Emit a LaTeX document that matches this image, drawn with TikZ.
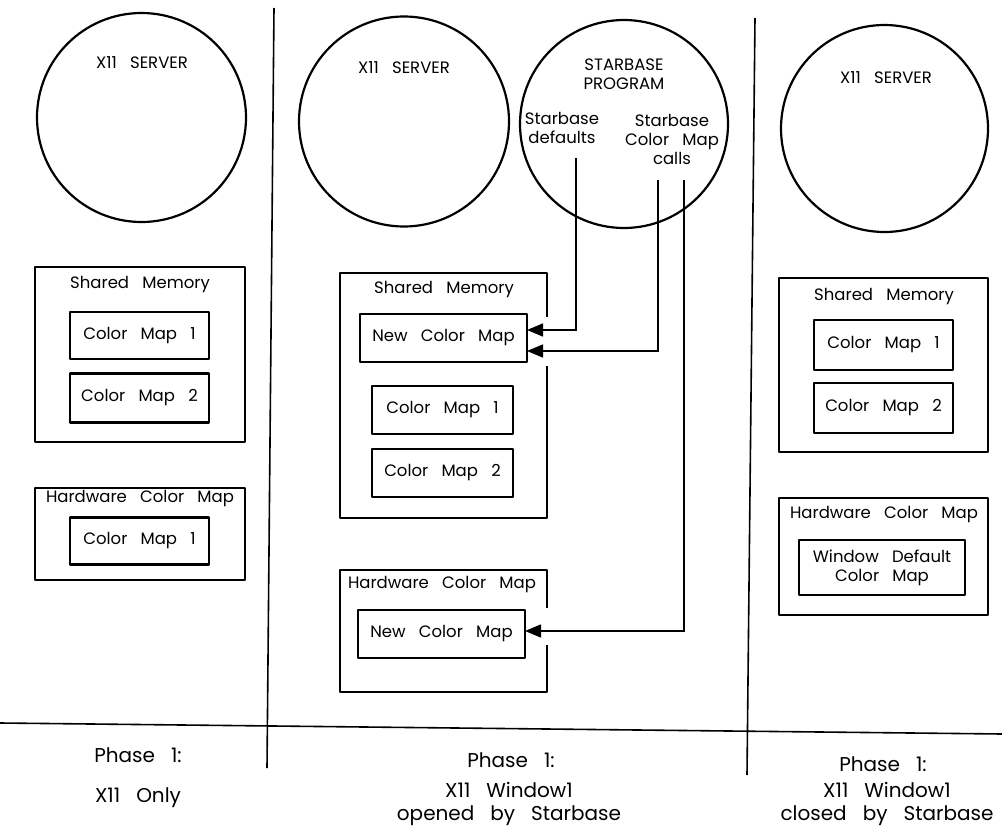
\documentclass[tikz,border=0pt]{standalone}
\usepackage{fontspec}
\setmainfont{Poppins}[WordSpace=3]
\usetikzlibrary{arrows.meta}
\tikzset{
  every node/.style={font=\fontsize{16.5}{19}\selectfont, inner sep=0pt, outer sep=0pt},
  box/.style={draw, line width=2.5pt, rectangle, line join=round},
  srv/.style={draw, line width=2.2pt, circle},
  lbl/.style={align=center},
  biglbl/.style={align=center, font=\fontsize{20}{23}\selectfont},
  conn/.style={line width=1.5pt, -{Triangle[length=16pt,width=13pt]}},
  divline/.style={line width=1.6pt}
}
\begin{document}
\begin{tikzpicture}[x=1pt,y=-1pt]
\useasboundingbox (0,0) rectangle (1002,835);
% dividers
\coordinate (v1t) at (274,8); \coordinate (v1b) at (267,768);
\coordinate (v2t) at (755,18); \coordinate (v2b) at (747,775);
\coordinate (hl) at (0,723); \coordinate (hr) at (1002,734);
\draw[divline] (v1t) -- (v1b);
\draw[divline] (v2t) -- (v2b);
\draw[divline] (hl) -- (hr);

% ---------- left column ----------
\node[srv, minimum size=209pt] (c1) at (141.5,117.5) {};
\node[lbl] (c1t) at (142,63) {X11 SERVER};
\node[box, minimum width=210pt, minimum height=175pt] (sm1) at (140,354.5) {};
\node[lbl] (sm1t) at (140,285) {Shared Memory};
\node[box, minimum width=139pt, minimum height=47pt] (cm11) at (139.5,335.5) {Color Map 1};
\node[box, minimum width=139pt, minimum height=49pt] (cm12) at (139.5,398) {Color Map 2};
\node[box, minimum width=210pt, minimum height=92pt] (hw1) at (140,534) {};
\node[lbl] (hw1t) at (140,499) {Hardware Color Map};
\node[box, minimum width=139pt, minimum height=47pt] (hcm1) at (139.5,541) {Color Map 1};

% ---------- middle column ----------
\node[srv, minimum size=210pt] (c2) at (404,121.5) {};
\node[lbl] (c2t) at (404,68) {X11 SERVER};
\node[srv, minimum size=208pt] (c3) at (624,124) {};
\node[lbl] (c3t) at (624,74) {STARBASE\\PROGRAM};
\node[lbl] (sbd) at (562,128) {Starbase\\defaults};
\node[lbl] (sbc) at (672,139) {Starbase\\Color Map\\calls};

\node[box, minimum width=207pt, minimum height=245pt] (sm2) at (443.5,395.5) {};
\node[lbl] (sm2t) at (444,290) {Shared Memory};
\node[box, minimum width=167pt, minimum height=48pt] (ncm2) at (443.5,338) {New Color Map};
\node[box, minimum width=141pt, minimum height=48pt] (cm21) at (442.5,410) {Color Map 1};
\node[box, minimum width=141pt, minimum height=48pt] (cm22) at (442.5,473) {Color Map 2};
\node[box, minimum width=207pt, minimum height=122pt] (hw2) at (443.5,631) {};
\node[lbl] (hw2t) at (442,585) {Hardware Color Map};
\node[box, minimum width=167pt, minimum height=48pt] (ncm2h) at (441.5,634) {New Color Map};

% gaps in the box edges where the arrows enter
\fill[white] (541,317) rectangle (553,366);
\fill[white] (541,608) rectangle (553,645);

\coordinate (s1) at (576,158);
\coordinate (s2) at (658,180);
\coordinate (s3) at (684,180);
\draw[conn] (s1) |- ([yshift=8pt]ncm2.east);
\draw[conn] (s2) |- ([yshift=-13pt]ncm2.east);
\draw[conn] (s3) |- ([yshift=3pt]ncm2h.east);

% ---------- right column ----------
\node[srv, minimum size=207pt] (c4) at (884.5,128.5) {};
\node[lbl] (c4t) at (886,78) {X11 SERVER};
\node[box, minimum width=209pt, minimum height=174pt] (sm3) at (883.5,365) {};
\node[lbl] (sm3t) at (884,297) {Shared Memory};
\node[box, minimum width=139pt, minimum height=50pt] (cm31) at (883.5,345) {Color Map 1};
\node[box, minimum width=139pt, minimum height=50pt] (cm32) at (883.5,408) {Color Map 2};
\node[box, minimum width=209pt, minimum height=117pt] (hw3) at (883.5,556.5) {};
\node[lbl] (hw3t) at (884,515) {Hardware Color Map};
\node[box, minimum width=166pt, minimum height=55pt, align=center] (wdcm) at (882,567.5) {Window Default\\Color Map};

% ---------- bottom labels ----------
\node[biglbl] (p1) at (138,755) {Phase 1:};
\node[biglbl] (p1s) at (138,798) {X11 Only};
\node[biglbl] (p2) at (511,760) {Phase 1:};
\node[biglbl] (p2s) at (509,804) {X11 Window1\\opened by Starbase};
\node[biglbl] (p3) at (883,764) {Phase 1:};
\node[biglbl] (p3s) at (887,804) {X11 Window1\\closed by Starbase};
\end{tikzpicture}
\end{document}
